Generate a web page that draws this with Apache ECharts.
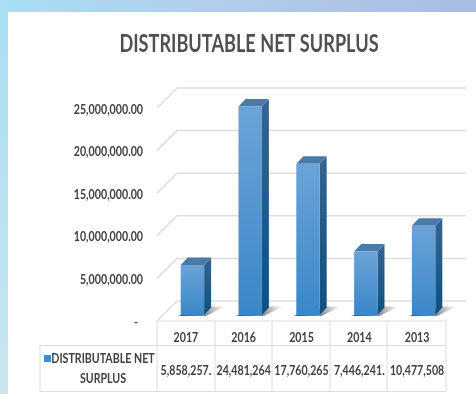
<!DOCTYPE html>
<html><head><meta charset="utf-8">
<style>html,body{margin:0;padding:0;background:#fff;overflow:hidden}#c{width:476px;height:394px;filter:blur(0.45px)}</style>
<script src="https://cdn.jsdelivr.net/npm/echarts@6/dist/echarts.min.js"></script>
</head><body><div id="c"></div>
<script>
const titleText = 'DISTRIBUTABLE NET SURPLUS';
const years = ['2017','2016','2015','2014','2013'];
const surplus = [5858257, 24481264, 17760265, 7446241, 10477508];
const tableValues = ['5,858,257.','24,481,264','17,760,265','7,446,241.','10,477,508'];
const yTicks = [0, 5000000, 10000000, 15000000, 20000000, 25000000];
const yTickLabels = ['-','5,000,000.00','10,000,000.00','15,000,000.00','20,000,000.00','25,000,000.00'];
const legendLines = ['DISTRIBUTABLE NET','SURPLUS'];

const chart = echarts.init(document.getElementById('c'), null, {renderer:'canvas'});
const FONT = 'Lato';
const TXT = '#404040';
const GRID = '#dedede';
const L=157, R=446, T=108, B=321;
const tableLines = [
  [157,321,446,321],[40,345.5,446,345.5],[40,391.5,446,391.5],[40,345.5,40,391.5],
  ...[157,215,272,330,387,446].map(x=>[x,321,x,391.5])
];
function squeezed(text, x, y, align, size, color, sx){
  return {type:'text', x, y, scaleX:sx||0.76, silent:true,
    style:{text, x:0, y:0, align, verticalAlign:'middle', fontFamily:FONT, fontSize:size, fontWeight:'bold', fill:color||TXT}};
}
const barSeries = {
  type:'custom', xAxisIndex:0, yAxisIndex:0, clip:false, z:5,
  data: surplus.map((v,i)=>[i,v]),
  renderItem(params, api){
    const c = api.coord([api.value(0), api.value(1)]);
    const b = api.coord([api.value(0), 0]);
    const band = api.size([1,0])[0];
    const w = band*0.405;
    const x0 = c[0]-w/2+6.5, x1 = x0+w;
    const top = c[1]-6, bot = b[1]-6, dx=7, dy=7.5;
    return {type:'group', children:[
      {type:'polygon', shape:{points:[[x0-3,bot+1],[x1+2,bot+1],[x1+dx+14,bot-dy-1],[x1+dx,bot-dy-1]]},
       style:{fill:{type:'linear',x:0,y:1,x2:1,y2:0,colorStops:[{offset:0,color:'rgba(50,55,60,0.9)'},{offset:0.6,color:'rgba(70,75,80,0.6)'},{offset:1,color:'rgba(120,120,120,0.02)'}]}}},
      {type:'polygon', shape:{points:[[x1,top],[x1+dx,top-dy],[x1+dx,bot-dy],[x1,bot]]},
       style:{fill:{type:'linear',x:0,y:0,x2:0,y2:1,colorStops:[{offset:0,color:'#33658f'},{offset:1,color:'#10507f'}]}}},
      {type:'polygon', shape:{points:[[x0,top],[x0+dx,top-dy],[x1+dx,top-dy],[x1,top]]},
       style:{fill:'#4a7ba8'}},
      {type:'rect', shape:{x:x0,y:top,width:w,height:bot-top},
       style:{fill:{type:'linear',x:0,y:0,x2:0,y2:1,colorStops:[{offset:0,color:'#6ba3d8'},{offset:1,color:'#3a87c8'}]}}}
    ]};
  }
};
const wallSeries = {
  type:'custom', xAxisIndex:0, yAxisIndex:0, clip:false, z:1, silent:true,
  data: yTicks.map(v=>[0,v]),
  renderItem(params, api){
    const p = api.coord([0, api.value(1)]);
    const x = L, y = p[1];
    return {type:'polyline', shape:{points:[[x,y],[x+20,y-20],[x+309,y-20]]},
      style:{stroke:GRID, lineWidth:1.5, fill:null}};
  }
};
const yLabelSeries = {
  type:'custom', xAxisIndex:0, yAxisIndex:0, clip:false, z:6, silent:true,
  data: yTicks.map(v=>[0,v]),
  renderItem(params, api){
    const p = api.coord([0, api.value(1)]);
    const i = params.dataIndex;
    return squeezed(yTickLabels[i], i===0 ? 138 : 143, p[1]+1, 'right', 14);
  }
};
const tableSeries = {
  type:'custom', xAxisIndex:0, yAxisIndex:0, clip:false, z:6, silent:true,
  data: years.map((y,i)=>[i,0]),
  renderItem(params, api){
    const p = api.coord([api.value(0), 0]);
    const i = params.dataIndex;
    return {type:'group', children:[
      squeezed(years[i], p[0], p[1]+16, 'center', 14),
      squeezed(tableValues[i], p[0], p[1]+49, 'center', 14)
    ]};
  }
};
chart.setOption({
  animation:false,
  backgroundColor:'#ffffff',
  textStyle:{fontFamily:FONT},
  grid:{left:L,top:T,width:R-L,height:B-T,containLabel:false},
  xAxis:{type:'category',data:years,axisLine:{show:false},axisTick:{show:false},axisLabel:{show:false}},
  yAxis:{type:'value',min:0,max:25000000,interval:5000000,
    axisLine:{show:false},axisTick:{show:false},splitLine:{show:false},axisLabel:{show:false}},
  graphic:[
    {type:'rect',z:-10,silent:true,shape:{x:0,y:0,width:476,height:12},
     style:{fill:{type:'linear',x:0,y:0,x2:1,y2:0,colorStops:[{offset:0,color:'#a8def3'},{offset:0.5,color:'#b2cce9'},{offset:1,color:'#a9bce1'}]}}},
    {type:'rect',z:-10,silent:true,shape:{x:0,y:0,width:8,height:394},
     style:{fill:{type:'linear',x:0,y:0,x2:0,y2:1,colorStops:[{offset:0,color:'#a8def3'},{offset:1,color:'#c8e6ef'}]}}},
    ...tableLines.map(s=>({type:'line',z:2,silent:true,shape:{x1:s[0],y1:s[1],x2:s[2],y2:s[3]},style:{stroke:'#dcdcdc',lineWidth:1}})),
    {type:'rect',z:3,silent:true,shape:{x:44,y:355,width:7,height:7},style:{fill:'#3f8ccb'}},
    Object.assign(squeezed(titleText,249,44,'center',25,'#505050',0.725),{z:3}),
    Object.assign(squeezed(legendLines[0],103,358,'center',14),{z:3}),
    Object.assign(squeezed(legendLines[1],103,378,'center',14),{z:3})
  ],
  series:[wallSeries,barSeries,yLabelSeries,tableSeries]
});
</script></body></html>
